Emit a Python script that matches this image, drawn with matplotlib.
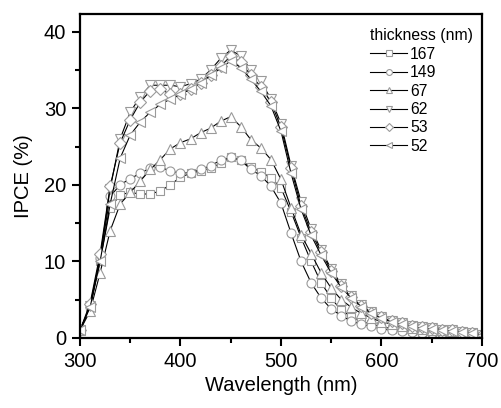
import numpy as np
import matplotlib
matplotlib.use("Agg")
import matplotlib.pyplot as plt
from matplotlib.ticker import MultipleLocator

plt.rcParams['font.family'] = ['Liberation Sans', 'DejaVu Sans']

wavelength = list(range(300, 701, 10))

ipce_167 = [1, 4, 10, 17, 18.7, 19, 18.8, 18.8, 19.2, 20, 21, 21.5, 21.8, 22.2, 22.8, 23.6,
            23.2, 22.3, 21.7, 20.9, 19.6, 16.5, 13.1, 10, 7.2, 5.2, 3.6, 2.8, 2.2, 1.8, 1.5,
            1.2, 1.0, 0.9, 0.8, 0.7, 0.6, 0.5, 0.5, 0.4, 0.3]
ipce_149 = [1, 4, 10.5, 18.5, 20, 20.8, 21.5, 22.2, 22.3, 21.8, 21.5, 21.6, 22, 22.5, 23.2, 23.6,
            23.2, 22, 21.2, 19.8, 17.6, 13.7, 10, 7.2, 5.2, 3.8, 2.9, 2.2, 1.8, 1.5, 1.2,
            1.0, 0.9, 0.8, 0.7, 0.7, 0.6, 0.5, 0.4, 0.4, 0.3]
ipce_67 = [1, 3.5, 8.5, 14, 17.5, 19, 20.5, 22, 23.3, 24.7, 25.5, 26, 26.8, 27.4, 28.3, 28.9,
           27.6, 25.9, 24.8, 23.3, 20.7, 17, 13.5, 11, 8.5, 6.5, 5, 4, 3.2, 2.6, 2.1,
           1.8, 1.5, 1.3, 1.2, 1.1, 1.0, 0.9, 0.7, 0.5, 0.3]
ipce_62 = [1, 4.2, 10.5, 19.5, 26, 29.5, 31.5, 33, 33, 33, 32.8, 33.2, 33.8, 35, 36.5, 37.6,
           36.8, 35, 33.5, 31.2, 28, 22.5, 17.8, 14.2, 11.5, 9, 7, 5.5, 4.3, 3.4, 2.7,
           2.2, 1.9, 1.6, 1.4, 1.3, 1.1, 1.0, 0.8, 0.6, 0.4]
ipce_53 = [1, 4.5, 11, 19.8, 25.5, 28.5, 30.8, 32.3, 32.5, 31.8, 31.8, 32.5, 33.3, 34.3, 35.5, 36.8,
           36, 34.3, 32.8, 30.8, 27.5, 22.2, 17.2, 13.8, 11.2, 8.8, 6.8, 5.3, 4.2, 3.3, 2.7,
           2.2, 1.9, 1.6, 1.4, 1.3, 1.1, 1.0, 0.8, 0.6, 0.4]
ipce_52 = [1, 4, 10, 17.5, 23.5, 26.5, 28.2, 29.5, 30.5, 31.2, 31.8, 32.5, 33.3, 34.3, 35.2, 36.2,
           35.3, 33.8, 32.2, 30.3, 27, 21.5, 16.8, 13.4, 10.8, 8.5, 6.6, 5.2, 4.1, 3.2, 2.6,
           2.1, 1.8, 1.5, 1.3, 1.2, 1.1, 0.9, 0.8, 0.6, 0.4]

labels = ['167', '149', '67', '62', '53', '52']
series = [ipce_167, ipce_149, ipce_67, ipce_62, ipce_53, ipce_52]
markers = ['s', 'o', '^', 'v', 'D', '<']
msizes = [6, 6.5, 7.5, 7.5, 6, 7.5]

fig = plt.figure(figsize=(5.01, 4.08), dpi=100)
ax = fig.add_axes([0.1597, 0.1716, 0.8023, 0.7941])

for y, lab, m, ms in zip(series, labels, markers, msizes):
    ax.plot(wavelength, y, color='black', linewidth=0.8, marker=m, markersize=ms,
            markerfacecolor='white', markeredgecolor='#9a9a9a', markeredgewidth=0.8,
            label=lab)

ax.set_xlim(300, 700)
ax.set_ylim(0, 42.3)
ax.xaxis.set_major_locator(MultipleLocator(100))
ax.xaxis.set_minor_locator(MultipleLocator(50))
ax.yaxis.set_major_locator(MultipleLocator(10))
ax.yaxis.set_minor_locator(MultipleLocator(5))
ax.tick_params(which='major', direction='out', length=6, width=1.5, labelsize=14.5, pad=4)
ax.tick_params(which='minor', direction='out', length=3.5, width=1.5)
for s in ax.spines.values():
    s.set_linewidth(1.6)

ax.set_xlabel('Wavelength (nm)', fontsize=14.5, labelpad=4)
ax.set_ylabel('IPCE (%)', fontsize=14.5, labelpad=8)

leg = ax.legend(title='thickness (nm)', loc='upper right', frameon=False, fontsize=11.3,
                title_fontsize=11.3, handlelength=2.35, handletextpad=0.2,
                labelspacing=0.22, borderaxespad=0.3, markerscale=0.65,
                bbox_to_anchor=(1.005, 0.99))
leg._legend_box.align = 'left'

fig.savefig('out.png', dpi=100)
